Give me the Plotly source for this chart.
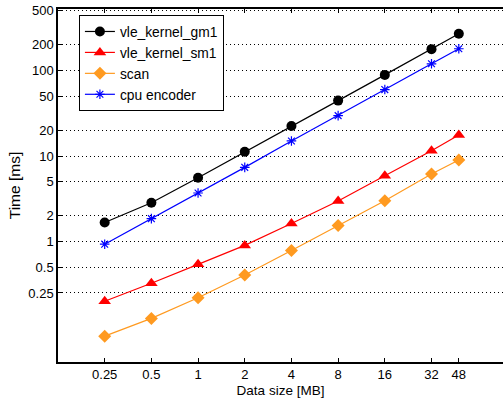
import plotly.graph_objects as go
import math

data_size = [0.25, 0.5, 1, 2, 4, 8, 16, 32, 48]
x_tick_labels = ["0.25", "0.5", "1", "2", "4", "8", "16", "32", "48"]
y_tick_vals = [0.25, 0.5, 1, 2, 5, 10, 20, 50, 100, 200, 500]
y_tick_labels = ["0.25", "0.5", "1", "2", "5", "10", "20", "50", "100", "200", "500"]

vle_kernel_gm1 = [1.67, 2.84, 5.57, 11.2, 22.5, 44.5, 89, 178, 269]
vle_kernel_sm1 = [0.20, 0.325, 0.54, 0.90, 1.62, 2.97, 5.88, 11.5, 17.6]
scan = [0.078, 0.126, 0.22, 0.406, 0.785, 1.54, 3.0, 6.15, 8.97]
cpu_encoder = [0.93, 1.85, 3.69, 7.37, 15.0, 29.7, 59.9, 120, 180]

fig = go.Figure()
fig.add_trace(go.Scatter(x=data_size, y=vle_kernel_gm1, name="vle_kernel_gm1",
                         mode="lines+markers", line=dict(color="black", width=1.2),
                         marker=dict(symbol="circle", size=10, color="black")))
fig.add_trace(go.Scatter(x=data_size, y=vle_kernel_sm1, name="vle_kernel_sm1",
                         mode="lines+markers", line=dict(color="#FF0000", width=1.2),
                         marker=dict(symbol="triangle-up", size=11, color="#FF0000")))
fig.add_trace(go.Scatter(x=data_size, y=scan, name="scan",
                         mode="lines+markers", line=dict(color="#FF9A20", width=1.2),
                         marker=dict(symbol="diamond", size=10, color="#FF9A20")))
fig.add_trace(go.Scatter(x=data_size, y=cpu_encoder, name="cpu encoder",
                         mode="lines+markers", line=dict(color="#0000FF", width=1.2),
                         marker=dict(symbol="asterisk-open", size=8, color="#0000FF",
                                     line=dict(color="#0000FF", width=1.2))))

fig.update_layout(
    width=503, height=400,
    margin=dict(l=58, r=0, t=9, b=38),
    paper_bgcolor="white", plot_bgcolor="white",
    font=dict(family="Liberation Sans, Arial, sans-serif", size=13, color="black"),
    legend=dict(x=0.047, y=0.983, xanchor="left", yanchor="top",
                bgcolor="white", bordercolor="black", borderwidth=1,
                font=dict(size=13.8), tracegroupgap=0),
    xaxis=dict(type="log", range=[math.log10(0.125), math.log10(92.5)],
               tickvals=data_size, ticktext=x_tick_labels,
               ticks="inside", ticklen=4, tickcolor="black",
               showline=True, linecolor="black", linewidth=1.5, mirror="ticks",
               showgrid=False, zeroline=False, automargin=False,
               title=dict(text="Data size [MB]", standoff=4, font=dict(size=13.5))),
    yaxis=dict(type="log", range=[math.log10(0.0389), math.log10(525)],
               tickvals=y_tick_vals, ticktext=y_tick_labels,
               ticks="inside", ticklen=4, tickcolor="black",
               showline=True, linecolor="black", linewidth=1.5,
               showgrid=True, gridcolor="black", gridwidth=1, griddash="1px,3px",
               zeroline=False, automargin=False,
               title=dict(text="Time [ms]", standoff=4, font=dict(size=15.5))),
)

fig.write_html("out.html", config={"displayModeBar": False},
               post_script="document.body.style.margin='0';document.body.style.overflow='hidden';")
